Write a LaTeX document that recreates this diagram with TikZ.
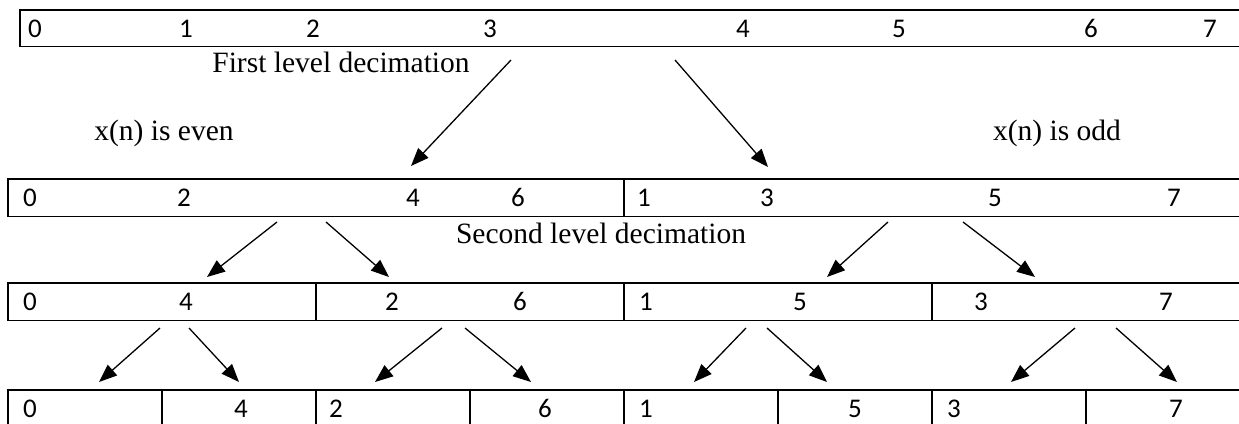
\documentclass[tikz,border=0pt]{standalone}
\usepackage{fontspec}
\setmainfont{Liberation Serif}
\newfontfamily\digitfont{Carlito}
\usetikzlibrary{arrows.meta}
\tikzset{
  rowbox/.style={draw=black, line width=1.8pt},
  digit/.style={anchor=base, inner sep=0pt, font=\digitfont\fontsize{27}{32}\selectfont},
  lbl/.style={anchor=base, inner sep=0pt, font=\fontsize{29.5}{35}\selectfont},
  arr/.style={line width=1.3pt, -{Triangle[length=18pt,width=14pt]}, shorten >=0pt}
}
\begin{document}
\begin{tikzpicture}[x=1pt,y=-1pt]
\clip (0,0) rectangle (1239,423);
\fill[white] (0,0) rectangle (1239,423);
% rows
\draw[rowbox] (20,10) rectangle (1260,46.5);
\draw[rowbox] (8,179) rectangle (1260,216.5);
\draw[rowbox] (624,179) -- (624,216.5);
\draw[rowbox] (8,283) rectangle (1260,320.5);
\foreach \x in {316,624,932} \draw[rowbox] (\x,283) -- (\x,320.5);
\draw[rowbox] (8,390) rectangle (1260,440);
\foreach \x in {162,316,470,624,778,932,1086} \draw[rowbox] (\x,390) -- (\x,440);
% row 1 digits
\foreach \x/\d/\n in {35/0/a,186/1/b,313/2/c,490/3/d,743/4/e,899/5/f,1091/6/g,1210/7/h}
  \node[digit] (r1\n) at (\x,37) {\d};
% row 2 digits
\foreach \x/\d/\n in {30/0/a,184/2/b,413/4/c,518/6/d,644/1/e,767/3/f,995/5/g,1174/7/h}
  \node[digit] (r2\n) at (\x,206) {\d};
% row 3 digits
\foreach \x/\d/\n in {30/0/a,186/4/b,392/2/c,520/6/d,646/1/e,800/5/f,981/3/g,1166/7/h}
  \node[digit] (r3\n) at (\x,310) {\d};
% row 4 digits
\foreach \x/\d/\n in {30/0/a,241/4/b,336/2/c,545/6/d,646/1/e,855/5/f,954/3/g,1176/7/h}
  \node[digit] (r4\n) at (\x,417) {\d};
% labels
\node[lbl] (first) at (341,72) {First level decimation};
\node[lbl] (even) at (164,140) {x(n) is even};
\node[lbl] (odd) at (1057,140) {x(n) is odd};
\node[lbl] (second) at (601,243) {Second level decimation};
% arrow end points
\coordinate (s1) at (511,60);  \coordinate (e1) at (411,166);
\coordinate (s2) at (675,60);  \coordinate (e2) at (768,167);
\coordinate (s3) at (277,222); \coordinate (e3) at (207,277);
\coordinate (s4) at (326,222); \coordinate (e4) at (389,277);
\coordinate (s5) at (888,222); \coordinate (e5) at (827,277);
\coordinate (s6) at (963,222); \coordinate (e6) at (1035,277);
\coordinate (s7) at (160,328); \coordinate (e7) at (99,382);
\coordinate (s8) at (189,328); \coordinate (e8) at (239,382);
\coordinate (s9) at (442,328); \coordinate (e9) at (375,382);
\coordinate (s10) at (465,328); \coordinate (e10) at (531,382);
\coordinate (s11) at (746,328); \coordinate (e11) at (694,382);
\coordinate (s12) at (767,328); \coordinate (e12) at (827,382);
\coordinate (s13) at (1075,328); \coordinate (e13) at (1011,382);
\coordinate (s14) at (1116,328); \coordinate (e14) at (1177,382);
\foreach \i in {1,...,14} \draw[arr] (s\i) -- (e\i);
\end{tikzpicture}
\end{document}
